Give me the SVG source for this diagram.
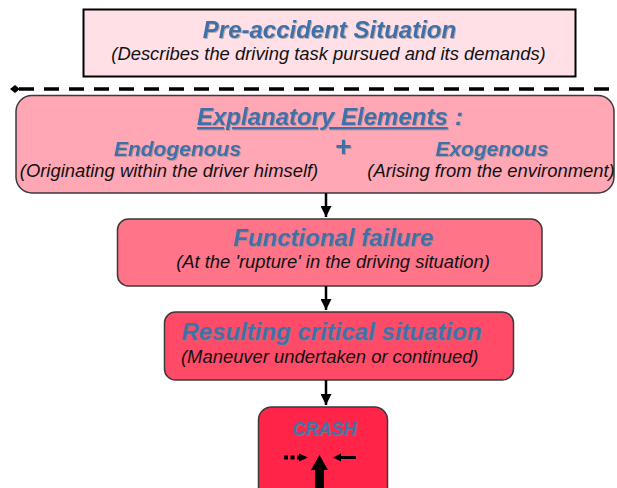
<svg xmlns="http://www.w3.org/2000/svg" width="617" height="488" viewBox="0 0 617 488">
<defs>
<style>
.box{stroke:#3a3a3a;stroke-width:1.5}
.ttl{font-family:"Liberation Sans",Arial,sans-serif;font-weight:bold;font-style:italic;fill:#4070A8;filter:url(#sh)}
.sub{font-family:"Liberation Sans",Arial,sans-serif;font-style:italic;fill:#111;font-size:18.4px}
.conn{stroke:#000;stroke-width:2.5;fill:none}
</style>
<filter id="sh" x="-5%" y="-20%" width="110%" height="140%">
<feDropShadow dx="1" dy="1" stdDeviation="0.4" flood-color="#888" flood-opacity="0.6"/>
</filter>
<marker id="ah" markerWidth="11" markerHeight="11" refX="10" refY="5" orient="auto" markerUnits="userSpaceOnUse" viewBox="0 0 10 10">
<path d="M0,0 L10,5 L0,10 Z" fill="#000"/>
</marker>
</defs>

<g id="pre-accident">
<rect x="83.5" y="9.5" width="492" height="67" fill="#FFE0E6" stroke="#000" stroke-width="2"/>
<text class="ttl" x="329.5" y="37.5" font-size="24" text-anchor="middle">Pre-accident Situation</text>
<text class="sub" x="328.5" y="59.5" text-anchor="middle">(Describes the driving task pursued and its demands)</text>
</g>

<g id="separator">
<line x1="19" y1="89" x2="617" y2="89" stroke="#000" stroke-width="3.5" stroke-dasharray="15 10"/>
<polygon points="10,89 15,85 20,89 15,93" fill="#000"/>
</g>

<g id="explanatory">
<rect class="box" x="16" y="95.5" width="598" height="97.5" rx="16" fill="#FFA7B4"/>
<text class="ttl" x="197" y="125" font-size="24" text-decoration="underline">Explanatory Elements</text>
<text class="ttl" x="455" y="125" font-size="24">:</text>
<text class="ttl" x="177.5" y="156" font-size="21" text-anchor="middle">Endogenous</text>
<text class="ttl" x="343" y="156" font-size="28" text-anchor="middle">+</text>
<text class="ttl" x="492" y="156" font-size="21" text-anchor="middle">Exogenous</text>
<text class="sub" x="169" y="177" text-anchor="middle">(Originating within the driver himself)</text>
<text class="sub" x="491" y="177" text-anchor="middle">(Arising from the environment)</text>
</g>

<g id="functional-failure">
<rect class="box" x="117.5" y="219" width="424.5" height="67" rx="11" fill="#FF7489"/>
<text class="ttl" x="333.5" y="246" font-size="24" text-anchor="middle">Functional failure</text>
<text class="sub" x="333" y="268" text-anchor="middle">(At the 'rupture' in the driving situation)</text>
</g>

<g id="critical-situation">
<rect class="box" x="164.5" y="312" width="349" height="68" rx="11" fill="#FF4A68"/>
<text class="ttl" x="182" y="340" font-size="24">Resulting critical situation</text>
<text class="sub" x="181" y="363">(Maneuver undertaken or continued)</text>
</g>

<g id="crash">
<rect class="box" x="258.5" y="407" width="129" height="100" rx="13" fill="#FF2448"/>
<text class="ttl" x="324.5" y="435" font-size="18" text-anchor="middle">CRASH</text>
<line x1="284" y1="457.5" x2="300" y2="457.5" stroke="#000" stroke-width="4" stroke-dasharray="4 2.5"/>
<polygon points="299,453.5 308,457.5 299,461.5" fill="#000"/>
<line x1="356" y1="457.5" x2="340" y2="457.5" stroke="#000" stroke-width="3"/>
<polygon points="341,453.5 333,457.5 341,461.5" fill="#000"/>
<polygon points="319.5,455 328,470 324,470 324,490 315,490 315,470 311,470" fill="#000"/>
</g>

<g id="connectors">
<line class="conn" x1="326" y1="193" x2="326" y2="217" marker-end="url(#ah)"/>
<line class="conn" x1="326" y1="286" x2="326" y2="310" marker-end="url(#ah)"/>
<line class="conn" x1="326" y1="380" x2="326" y2="405" marker-end="url(#ah)"/>
</g>
</svg>
